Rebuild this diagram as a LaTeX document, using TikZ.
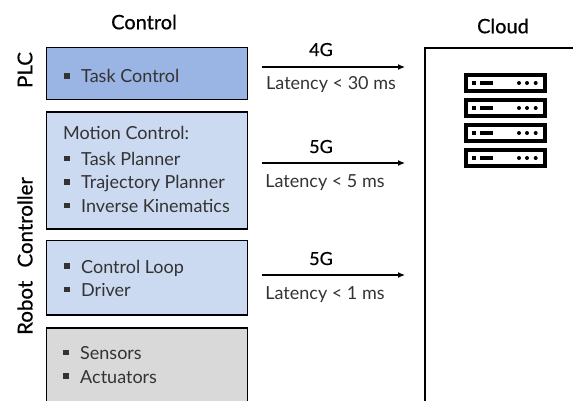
\documentclass[tikz,border=0pt]{standalone}
\usepackage{fontspec}
\setmainfont{Lato}
\newfontfamily\headf[FakeBold=0.5]{Lato}
\usetikzlibrary{arrows.meta}
\definecolor{txt}{HTML}{333333}
\definecolor{plcblue}{HTML}{9AB4E3}
\definecolor{lightblue}{HTML}{CBD9F1}
\definecolor{lightgrey}{HTML}{D9D9D9}
\newcommand{\hpx}[1]{\fontsize{#1}{#1}\selectfont}
\tikzset{
  x=1pt,y=-1pt,
  blk/.style={draw=black,line width=1.6pt,minimum width=201pt,inner sep=0pt,outer sep=0pt,anchor=north west},
  head/.style={font=\headf\hpx{20},text=black,inner sep=0pt},
  side/.style={font=\headf\hpx{20.5},text=black,rotate=90,inner sep=0pt},
  body/.style={font=\hpx{18},text=txt,inner sep=0pt,anchor=base west},
  bull/.style={fill=txt,minimum size=5.5pt,inner sep=0pt},
  netw/.style={font=\headf\hpx{18},text=black,inner sep=0pt,anchor=base},
  lat/.style={font=\hpx{18},text=txt,inner sep=0pt,anchor=base},
  link/.style={line width=1.2pt,-{Latex[length=7pt,width=6pt]}},
  rack/.style={draw=black,fill=white,line width=4pt,minimum width=79pt,minimum height=16.6pt,inner sep=0pt},
  led/.style={fill=black,inner sep=0pt},
}
\begin{document}
\begin{tikzpicture}
\useasboundingbox (0,0) rectangle (573,400);
\path[clip] (0,0) rectangle (573,400);
\node[head] (tctl) at (144,22) {Control};
\node[head] (tcld) at (503,26) {Cloud};
\node[side] (splc) at (25,70) {PLC};
\node[side] (srob) at (25,256) {Robot\hspace{8pt} Controller};
\node[blk,fill=plcblue,minimum height=52pt] (plc) at (46.5,47.5) {};
\node[blk,fill=lightblue,minimum height=117pt] (mot) at (46.5,112) {};
\node[blk,fill=lightblue,minimum height=74.5pt] (loop) at (46.5,240.5) {};
\node[blk,fill=lightgrey,minimum height=90pt] (sens) at (46.5,328) {};
\node[draw=black,line width=1.6pt,minimum width=200pt,minimum height=400pt,anchor=north west,inner sep=0pt,outer sep=0pt] (cloud) at (425,48) {};
\node[bull] (b1) at (67,76) {};
\node[body] (t1) at (81,82.500) {Task Control};
\node[body] (t2) at (63,139) {Motion Control:};
\node[bull] (b3) at (67,158.500) {};
\node[body] (t3) at (81,165) {Task Planner};
\node[bull] (b4) at (67,182) {};
\node[body] (t4) at (81,188.500) {Trajectory Planner};
\node[bull] (b5) at (67,205.500) {};
\node[body] (t5) at (81,212) {Inverse Kinematics};
\node[bull] (b6) at (67,266) {};
\node[body] (t6) at (81,273) {Control Loop};
\node[bull] (b7) at (67,289.500) {};
\node[body] (t7) at (81,296.500) {Driver};
\node[bull] (b8) at (66,352.500) {};
\node[body] (t8) at (80,359.500) {Sensors};
\node[bull] (b9) at (66,376) {};
\node[body] (t9) at (80,383) {Actuators};
\coordinate (a1) at (262,67);
\coordinate (a2) at (405,67);
\coordinate (b1s) at (262,163);
\coordinate (b2s) at (405,163);
\coordinate (c1s) at (262,275);
\coordinate (c2s) at (405,275);
\draw[link] (a1) -- (a2);
\draw[link] (b1s) -- (b2s);
\draw[link] (c1s) -- (c2s);
\node[netw] (n1) at (321,56) {4G};
\node[netw] (n2) at (321,153) {5G};
\node[netw] (n3) at (321,265) {5G};
\node[lat] (l1) at (331,89) {Latency < 30 ms};
\node[lat] (l2) at (325,187) {Latency < 5 ms};
\node[lat] (l3) at (325,299) {Latency < 1 ms};
\foreach \n/\y in {r1/83,r2/108,r3/133,r4/158}{
  \node[rack] (\n) at (505,\y) {};
  \node[led,minimum size=4pt] at (473.7,\y) {};
  \node[led,minimum width=12.5pt,minimum height=4pt] at (486.300,\y) {};
  \node[led,circle,minimum size=4pt] at (519,\y) {};
  \node[led,circle,minimum size=4pt] at (527,\y) {};
  \node[led,circle,minimum size=4pt] at (535.700,\y) {};
}
\end{tikzpicture}
\end{document}
